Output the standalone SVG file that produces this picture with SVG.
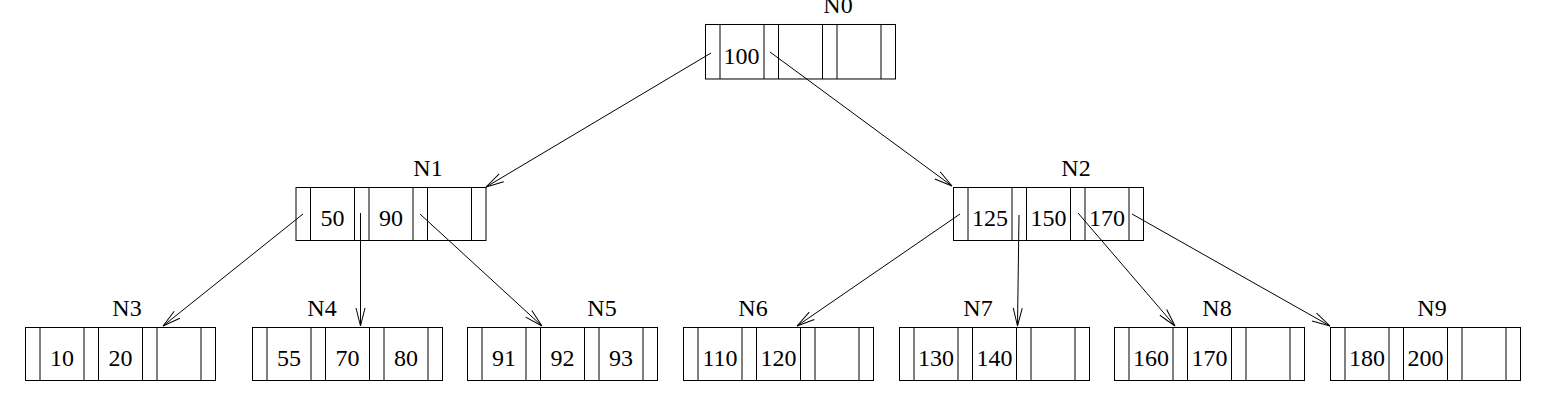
<svg xmlns="http://www.w3.org/2000/svg" width="1552" height="408" viewBox="0 0 1552 408">
<style>
.box{fill:none;stroke:#000;stroke-width:1}
.sep{stroke:#000;stroke-width:1}
.key{font-family:"Liberation Serif","Times New Roman",serif;font-size:24px;fill:#000;text-anchor:middle}
.lbl{font-family:"Liberation Serif","Times New Roman",serif;font-size:24px;fill:#000;text-anchor:middle}
.edge{stroke:#000;stroke-width:1;fill:none;marker-end:url(#arr)}
</style>
<defs>
<marker id="arr" markerUnits="userSpaceOnUse" markerWidth="20" markerHeight="12" refX="18" refY="4.5" orient="auto" overflow="visible">
<path d="M0,0 L18,4.5 L0,9" fill="none" stroke="#000" stroke-width="1"/>
</marker>
<g id="cells">
<line class="sep" x1="14.5" y1="0" x2="14.5" y2="53"/>
<line class="sep" x1="58.5" y1="0" x2="58.5" y2="53"/>
<line class="sep" x1="73" y1="0" x2="73" y2="53"/>
<line class="sep" x1="117" y1="0" x2="117" y2="53"/>
<line class="sep" x1="131.5" y1="0" x2="131.5" y2="53"/>
<line class="sep" x1="175.5" y1="0" x2="175.5" y2="53"/>
<rect class="box" x="0" y="0" width="190" height="53"/>
</g>
</defs>

<g id="connectors">
<line class="edge" x1="711" y1="53" x2="486" y2="187"/>
<line class="edge" x1="770" y1="52" x2="952" y2="186"/>
<line class="edge" x1="303" y1="214" x2="163" y2="326"/>
<line class="edge" x1="360.5" y1="213" x2="360.5" y2="326"/>
<line class="edge" x1="420" y1="214" x2="542" y2="326"/>
<line class="edge" x1="960" y1="214" x2="797" y2="326"/>
<line class="edge" x1="1019" y1="215" x2="1017.5" y2="326"/>
<line class="edge" x1="1078" y1="213" x2="1175" y2="326"/>
<line class="edge" x1="1132" y1="214" x2="1330" y2="326"/>
</g>

<g id="N0">
<use href="#cells" transform="translate(705.5,24.5) scale(1,1.028)"/>
<text class="lbl" x="838" y="13">N0</text>
<text class="key" x="741.5" y="64">100</text>
</g>

<g id="N1">
<use href="#cells" transform="translate(296,187.5)"/>
<text class="lbl" x="428" y="176">N1</text>
<text class="key" x="332.5" y="226">50</text>
<text class="key" x="391" y="226">90</text>
</g>

<g id="N2">
<use href="#cells" transform="translate(953.5,187.5)"/>
<text class="lbl" x="1076" y="176">N2</text>
<text class="key" x="990" y="226">125</text>
<text class="key" x="1048.5" y="226">150</text>
<text class="key" x="1107" y="226">170</text>
</g>

<g id="N3">
<use href="#cells" transform="translate(25.5,327.5)"/>
<text class="lbl" x="127" y="316">N3</text>
<text class="key" x="62" y="366">10</text>
<text class="key" x="120.5" y="366">20</text>
</g>

<g id="N4">
<use href="#cells" transform="translate(252.5,327.5)"/>
<text class="lbl" x="322" y="316">N4</text>
<text class="key" x="289" y="366">55</text>
<text class="key" x="347.5" y="366">70</text>
<text class="key" x="406" y="366">80</text>
</g>

<g id="N5">
<use href="#cells" transform="translate(467.5,327.5)"/>
<text class="lbl" x="602" y="316">N5</text>
<text class="key" x="504" y="366">91</text>
<text class="key" x="562.5" y="366">92</text>
<text class="key" x="621" y="366">93</text>
</g>

<g id="N6">
<use href="#cells" transform="translate(683.5,327.5)"/>
<text class="lbl" x="753" y="316">N6</text>
<text class="key" x="720" y="366">110</text>
<text class="key" x="778.5" y="366">120</text>
</g>

<g id="N7">
<use href="#cells" transform="translate(899.5,327.5)"/>
<text class="lbl" x="978" y="316">N7</text>
<text class="key" x="936" y="366">130</text>
<text class="key" x="994.5" y="366">140</text>
</g>

<g id="N8">
<use href="#cells" transform="translate(1114.5,327.5)"/>
<text class="lbl" x="1217" y="316">N8</text>
<text class="key" x="1151" y="366">160</text>
<text class="key" x="1209.5" y="366">170</text>
</g>

<g id="N9">
<use href="#cells" transform="translate(1330.5,327.5)"/>
<text class="lbl" x="1432" y="316">N9</text>
<text class="key" x="1367" y="366">180</text>
<text class="key" x="1425.5" y="366">200</text>
</g>
</svg>
